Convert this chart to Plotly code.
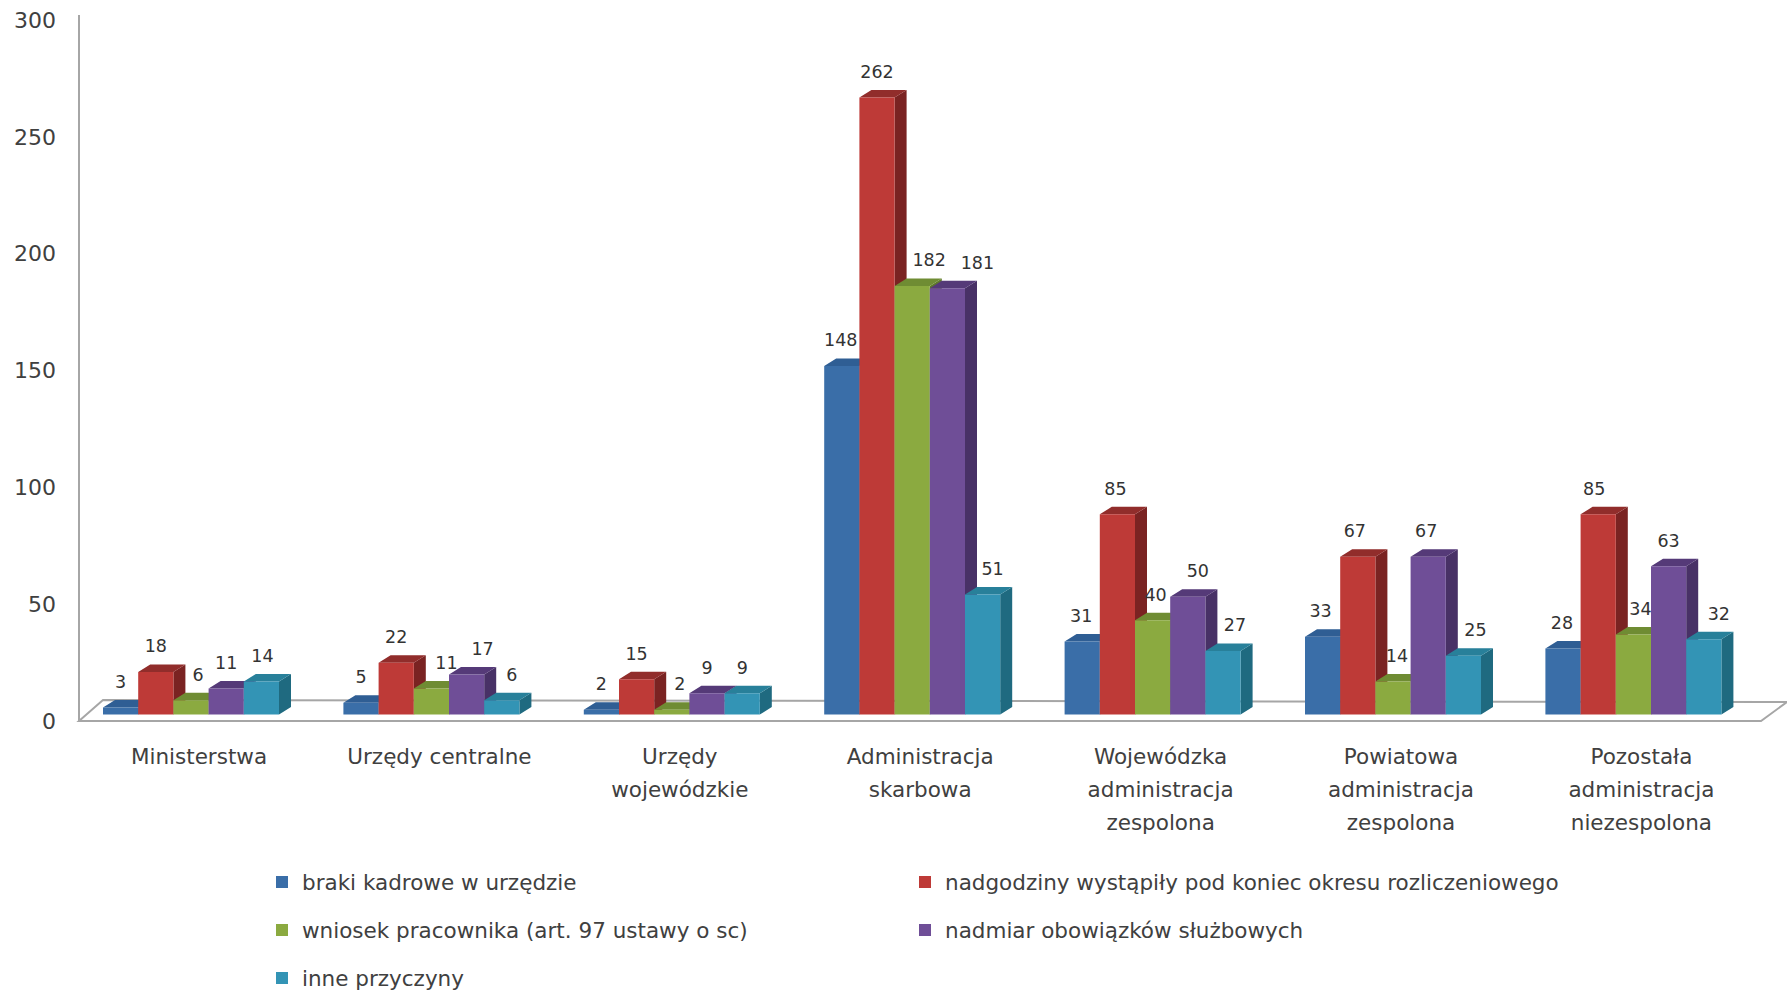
import plotly.graph_objects as go

# Reasons for overtime by type of office
categories = [
    "Ministerstwa",
    "Urzędy centralne",
    "Urzędy<br>wojewódzkie",
    "Administracja<br>skarbowa",
    "Wojewódzka<br>administracja<br>zespolona",
    "Powiatowa<br>administracja<br>zespolona",
    "Pozostała<br>administracja<br>niezespolona",
]
braki = [3, 5, 2, 148, 31, 33, 28]
nadgodziny = [18, 22, 15, 262, 85, 67, 85]
wniosek = [6, 11, 2, 182, 40, 14, 34]
nadmiar = [11, 17, 9, 181, 50, 67, 63]
inne = [14, 6, 9, 51, 27, 25, 32]
y_ticks = [0, 50, 100, 150, 200, 250, 300]

series_names = [
    "braki kadrowe w urzędzie",
    "nadgodziny wystąpiły pod koniec okresu rozliczeniowego",
    "wniosek pracownika (art. 97 ustawy o sc)",
    "nadmiar obowiązków służbowych",
    "inne przyczyny",
]
series_values = [braki, nadgodziny, wniosek, nadmiar, inne]
front_colors = ["#3A6EA8", "#BE3A37", "#8BAA40", "#6F4E97", "#3394B5"]
side_colors = ["#274E7C", "#7A2322", "#5F7A2A", "#483166", "#1F6A80"]
top_colors = ["#2F5E94", "#912D2B", "#6F8C33", "#553A78", "#28809A"]

# Sideways nudges (px) that keep value labels clear of neighbouring blocks
label_nudges = [
    [0, 0, 7, 0, 1],
    [0, 0, 15, 16, 10],
    [0, 0, 8, 0, 0],
    [-1, 0, 17, 30, 10],
    [-1, -2, 3, 10, 12],
    [-2, -3, 4, -2, 12],
    [-1, -4, 7, 0, 15],
]

# Page geometry in pixels
WIDTH, HEIGHT = 1787, 995
LEFT, TOP, BOTTOM = 79, 15, 723
BASE_PX = 714.5          # where the bars stand
PX_PER_UNIT = 2.355      # vertical scale of the bars
WALL_ZERO_PX = 721.0     # value axis sits on the front plane
WALL_PX_PER_UNIT = 2.3367
GROUP_0_PX = 191.0       # centre of the first group
GROUP_STEP_PX = 240.4    # distance between groups
BAR_W = 35.2 / GROUP_STEP_PX
DEPTH_X = 12 / GROUP_STEP_PX
DEPTH_Y = 7.5 / PX_PER_UNIT
LABEL_LIFT = 24 / PX_PER_UNIT

x_range = [(LEFT - GROUP_0_PX) / GROUP_STEP_PX, (WIDTH - GROUP_0_PX) / GROUP_STEP_PX]
y_range = [(BASE_PX - BOTTOM) / PX_PER_UNIT, (BASE_PX - TOP) / PX_PER_UNIT]
wall_range = [(WALL_ZERO_PX - BOTTOM) / WALL_PX_PER_UNIT, (WALL_ZERO_PX - TOP) / WALL_PX_PER_UNIT]
positions = list(range(len(categories)))

fig = go.Figure()

for s, (name, values) in enumerate(zip(series_names, series_values)):
    centers = [i + (s - 2) * BAR_W for i in positions]
    side_x, side_y, top_x, top_y = [], [], [], []
    for c, v in zip(centers, values):
        l, r = c - BAR_W / 2, c + BAR_W / 2
        side_x += [r, r + DEPTH_X, r + DEPTH_X, r, r, None]
        side_y += [0, DEPTH_Y, v + DEPTH_Y, v, 0, None]
        top_x += [l, l + DEPTH_X, r + DEPTH_X, r, l, None]
        top_y += [v, v + DEPTH_Y, v + DEPTH_Y, v, v, None]
    # receding faces of each block sit underneath the front faces
    for xs, ys, color in ((side_x, side_y, side_colors[s]), (top_x, top_y, top_colors[s])):
        fig.add_trace(go.Scatter(
            x=xs, y=ys, mode="lines", fill="toself", fillcolor=color,
            line=dict(width=0, color=color), showlegend=False, hoverinfo="skip", zorder=1,
        ))
    fig.add_trace(go.Bar(
        x=positions, y=values, name=name, marker=dict(color=front_colors[s], line=dict(width=0)),
        zorder=2, legend="legend" if s == 0 else f"legend{s + 1}",
    ))
    label_x = [c + label_nudges[i][s] / GROUP_STEP_PX for i, c in enumerate(centers)]
    fig.add_trace(go.Scatter(
        x=label_x, y=[v + LABEL_LIFT for v in values], mode="text", text=[str(v) for v in values],
        textposition="middle center", textfont=dict(family="DejaVu Sans", size=17.5, color="#333333"),
        showlegend=False, hoverinfo="skip", zorder=3,
    ))

# Empty trace that keeps the labelled value axis in the figure
fig.add_trace(go.Scatter(
    x=[None] * len(y_ticks), y=y_ticks, yaxis="y2", mode="lines",
    showlegend=False, hoverinfo="skip",
))


def spaced_label(text):
    """Keep the line pitch of the larger tick font while drawing smaller glyphs."""
    return "<br>".join(f'<span style="font-size:21.5px">{part}</span>' for part in text.split("<br>"))


def legend_box(x_px, y_px):
    return dict(
        x=x_px / WIDTH, y=1 - y_px / HEIGHT, xref="container", yref="container",
        xanchor="left", yanchor="middle", bgcolor="rgba(0,0,0,0)", borderwidth=0,
        font=dict(family="DejaVu Sans", size=21.5, color="#404040"),
    )


# Floor of the chart and the left wall edge, drawn behind the bars
frac_x = lambda px: (px - LEFT) / (WIDTH - LEFT)
frac_y = lambda py: (BOTTOM - py) / (BOTTOM - TOP)
floor = (
    f"M {frac_x(79)} {frac_y(721)} L {frac_x(1761)} {frac_y(721)} L {frac_x(1787)} {frac_y(702)} "
    f"L {frac_x(103)} {frac_y(700)} Z"
)
wall_edge = f"M {frac_x(79)} {frac_y(15)} L {frac_x(79)} {frac_y(721)}"
frame_line = dict(color="#A6A6A6", width=2)

fig.update_layout(
    width=WIDTH, height=HEIGHT,
    margin=dict(l=LEFT, r=0, t=TOP, b=HEIGHT - BOTTOM, autoexpand=False),
    paper_bgcolor="white", plot_bgcolor="white",
    barmode="group", bargap=1 - 5 * BAR_W, bargroupgap=0,
    font=dict(family="DejaVu Sans", color="#404040"),
    xaxis=dict(
        range=x_range, tickmode="array", tickvals=positions,
        ticktext=[spaced_label(c) for c in categories],
        tickfont=dict(family="DejaVu Sans", size=25.5, color="#404040"),
        tickangle=0, showgrid=False, zeroline=False, showline=False, ticks="",
        ticklabelshift=8, ticklabelstandoff=14,
    ),
    yaxis=dict(range=y_range, visible=False),
    yaxis2=dict(
        overlaying="y", side="left", range=wall_range, tickmode="array", tickvals=y_ticks,
        tickfont=dict(family="DejaVu Sans", size=22, color="#404040"),
        showgrid=False, zeroline=False, showline=False, ticks="", ticklabelstandoff=22,
    ),
    shapes=[
        dict(type="path", path=floor, xref="x domain", yref="y domain",
             line=frame_line, fillcolor="rgba(0,0,0,0)", layer="below"),
        dict(type="path", path=wall_edge, xref="x domain", yref="y domain",
             line=frame_line, layer="below"),
    ],
    legend=legend_box(262, 882),
    legend2=legend_box(905, 882),
    legend3=legend_box(262, 930),
    legend4=legend_box(905, 930),
    legend5=legend_box(262, 978),
)

fig.write_html("out.html")
